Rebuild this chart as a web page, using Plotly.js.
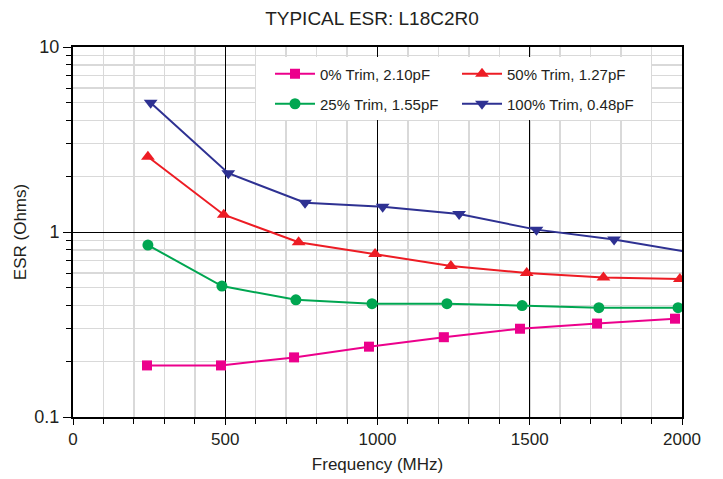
<!DOCTYPE html>
<html>
<head>
<meta charset="utf-8">
<script src="https://cdn.plot.ly/plotly-3.0.1.min.js"></script>
<style>html,body{margin:0;padding:0;background:#fff;}#chart{width:723px;height:479px;}</style>
</head>
<body>
<div id="chart"></div>
<script>
// Data
const seriesNames = ["0% Trim, 2.10pF", "25% Trim, 1.55pF", "50% Trim, 1.27pF", "100% Trim, 0.48pF"];
const freq0 = [243, 486, 726, 972, 1218, 1468, 1721, 1977];
const esr0 = [0.19, 0.19, 0.21, 0.24, 0.27, 0.30, 0.32, 0.34];
const freq25 = [246, 489, 732, 982, 1228, 1475, 1727, 1987];
const esr25 = [0.85, 0.51, 0.43, 0.41, 0.41, 0.40, 0.39, 0.39];
const freq50 = [246, 495, 741, 992, 1241, 1490, 1742, 1993];
const esr50 = [2.55, 1.24, 0.88, 0.76, 0.655, 0.60, 0.567, 0.557];
const freq100 = [255, 510, 762, 1017, 1268, 1522, 1777, 2030];
const esr100 = [5.0, 2.08, 1.44, 1.37, 1.25, 1.03, 0.91, 0.775];
const xTickVals = [0, 500, 1000, 1500, 2000];
const yTickVals = [0.1, 1, 10];
const yTickText = ["0.1", "1", "10"];

const colors = ["#ec008c", "#00a651", "#ed1c24", "#2e3192"];
const symbols = ["square", "circle", "triangle-up", "triangle-down"];
const legendIds = ["legend", "legend3", "legend2", "legend4"];
const xs = [freq0, freq25, freq50, freq100];
const ys = [esr0, esr25, esr50, esr100];

const traces = xs.map((x, i) => ({
  x: x, y: ys[i], name: seriesNames[i], type: "scatter", mode: "lines+markers",
  line: {color: colors[i], width: 2},
  marker: {color: colors[i], symbol: symbols[i], size: i === 1 ? 11 : (i === 0 ? 10 : 12)},
  legend: legendIds[i], cliponaxis: true
}));

const minorY = [];
[0.1, 1].forEach(d => { for (let k = 2; k <= 9; k++) minorY.push(+(k * d).toFixed(3)); });

const font = {family: "Liberation Sans, Arial, Helvetica, sans-serif", color: "#231f20"};
const px = p => (p - 73) / 609;
const py = p => (417 - p) / 370;
const legendBase = {orientation: "h", bgcolor: "rgba(0,0,0,0)", borderwidth: 0,
  font: Object.assign({size: 15}, font), itemwidth: 40, xanchor: "left", yanchor: "middle"};

const layout = {
  width: 723, height: 479,
  margin: {l: 73, r: 41, t: 47, b: 62},
  paper_bgcolor: "#fff", plot_bgcolor: "#fff",
  font: Object.assign({size: 17}, font),
  title: {text: "TYPICAL ESR: L18C2R0", font: Object.assign({size: 19}, font), x: 372 / 723, xanchor: "center", y: 1 - 18 / 479, yanchor: "middle"},
  xaxis: {
    range: [0, 2000], tickmode: "array", tickvals: xTickVals,
    showgrid: true, gridcolor: "#000", gridwidth: 1,
    ticks: "outside", ticklen: 6, tickcolor: "#000", tickwidth: 1,
    showline: true, linecolor: "#000", linewidth: 2, mirror: true, zeroline: false,
    tickfont: Object.assign({size: 17}, font),
    title: {text: "Frequency (MHz)", font: Object.assign({size: 17}, font), standoff: 10},
    minor: {dtick: 100, showgrid: true, gridcolor: "#d9d9d9", gridwidth: 1.5, ticks: "outside", ticklen: 5, tickcolor: "#000"}
  },
  yaxis: {
    type: "log", range: [-1, 1], tickmode: "array", tickvals: yTickVals, ticktext: yTickText,
    showgrid: true, gridcolor: "#000", gridwidth: 1,
    ticks: "outside", ticklen: 8, tickcolor: "#000", tickwidth: 1,
    showline: true, linecolor: "#000", linewidth: 2, mirror: true, zeroline: false,
    tickfont: Object.assign({size: 18}, font),
    title: {text: "ESR (Ohms)", font: Object.assign({size: 17}, font), standoff: 3},
    minor: {tickmode: "array", tickvals: minorY, showgrid: true, gridcolor: "#d9d9d9", gridwidth: 1.5, ticks: "outside", ticklen: 5, tickcolor: "#000"}
  },
  shapes: [{type: "rect", xref: "paper", yref: "paper", x0: px(256), x1: px(651), y0: py(120), y1: py(57),
    fillcolor: "#fff", line: {width: 0}, layer: "above"}],
  legend: Object.assign({x: px(270), y: py(74)}, legendBase),
  legend2: Object.assign({x: px(457), y: py(74)}, legendBase),
  legend3: Object.assign({x: px(270), y: py(104)}, legendBase),
  legend4: Object.assign({x: px(457), y: py(104)}, legendBase),
  showlegend: true
};

Plotly.newPlot("chart", traces, layout, {displayModeBar: false, staticPlot: true});
</script>
</body>
</html>
